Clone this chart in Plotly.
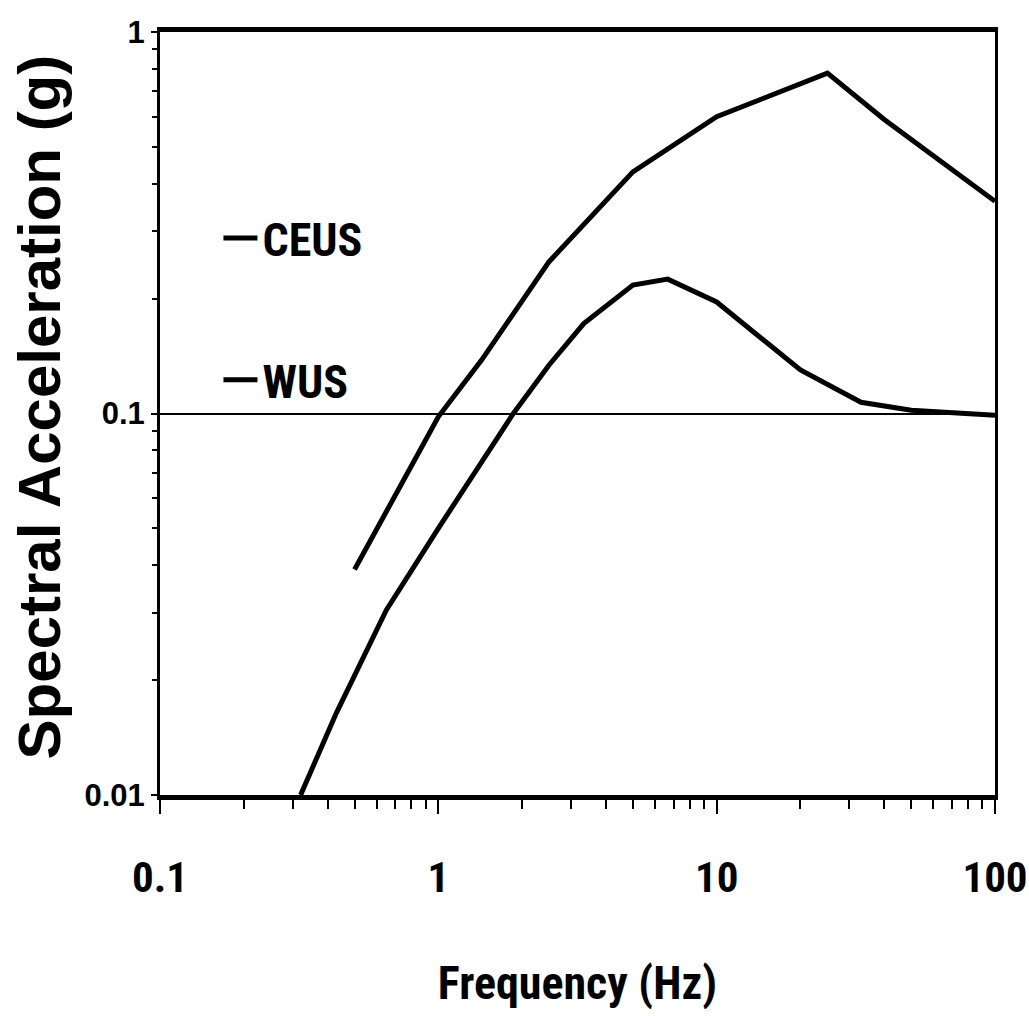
import plotly.graph_objects as go

# Data
ceus_freq = [0.5, 1.0, 1.43, 2.5, 5.0, 10.0, 25.0, 40.0, 100.0]
ceus_sa = [0.039, 0.098, 0.138, 0.25, 0.43, 0.60, 0.78, 0.59, 0.36]

wus_freq = [0.32, 0.43, 0.65, 1.0, 1.86, 2.5, 3.33, 5.0, 6.67, 10.0, 20.0, 33.0, 50.0, 100.0]
wus_sa = [0.010, 0.0164, 0.0305, 0.050, 0.100, 0.134, 0.172, 0.217, 0.225, 0.196, 0.13, 0.107, 0.102, 0.099]

x_tickvals = [0.1, 1, 10, 100]
x_ticktext = ["0.1", "1", "10", "100"]
y_tickvals = [0.01, 0.1, 1]
y_ticktext = ["0.01", "0.1", "1"]
x_minor = [m * d for d in (0.1, 1, 10) for m in range(2, 10)]
y_minor = [m * d for d in (0.01, 0.1) for m in range(2, 10)]

NARROW = "Roboto Condensed, Open Sans Condensed, Arial Narrow, sans-serif"
SANS = "Liberation Sans, Arial, sans-serif"

fig = go.Figure()
fig.add_trace(go.Scatter(x=ceus_freq, y=ceus_sa, mode="lines", name="CEUS",
                         line=dict(color="black", width=5), legend="legend"))
fig.add_trace(go.Scatter(x=wus_freq, y=wus_sa, mode="lines", name="WUS",
                         line=dict(color="black", width=5), legend="legend2"))

legend_common = dict(
    xanchor="left", yanchor="middle",
    bgcolor="rgba(0,0,0,0)", borderwidth=0,
    font=dict(family=NARROW, size=46, color="black", weight="bold"),
    itemwidth=34,
)

fig.update_layout(
    width=1029, height=1016,
    margin=dict(l=160, r=34, t=32, b=221),
    paper_bgcolor="white", plot_bgcolor="white",
    showlegend=True,
    legend=dict(x=0.07, y=0.73, **legend_common),
    legend2=dict(x=0.07, y=0.544, **legend_common),
    xaxis=dict(
        type="log", range=[-1, 2], automargin=False,
        tickmode="array", tickvals=x_tickvals, ticktext=x_ticktext,
        ticks="outside", ticklen=14, tickwidth=1.5, tickcolor="black",
        ticklabelstandoff=26, ticklabeloverflow="allow",
        minor=dict(tickmode="array", tickvals=x_minor, ticks="outside",
                   ticklen=9, tickwidth=1.5, tickcolor="black", showgrid=False),
        showgrid=False, zeroline=False,
        showline=True, linecolor="black", linewidth=5, mirror=True,
        tickfont=dict(family=NARROW, size=43, color="black", weight="bold"),
        title=dict(text="Frequency (Hz)", standoff=68,
                   font=dict(family=NARROW, size=46, color="black", weight="bold")),
    ),
    yaxis=dict(
        type="log", range=[-2, 0], automargin=False,
        tickmode="array", tickvals=y_tickvals, ticktext=y_ticktext,
        ticks="outside", ticklen=6, tickwidth=1.5, tickcolor="black",
        minor=dict(tickmode="array", tickvals=y_minor, ticks="outside",
                   ticklen=5, tickwidth=1.5, tickcolor="black", showgrid=False),
        showgrid=True, gridcolor="black", gridwidth=1.5,
        zeroline=False,
        showline=True, linecolor="black", linewidth=3, mirror=True,
        tickfont=dict(family=SANS, size=31, color="black", weight="bold"),
    ),
    annotations=[dict(
        text="Spectral Acceleration (g)", textangle=-90,
        xref="paper", yref="paper", x=(39 - 160) / 835, y=0.508,
        xanchor="center", yanchor="middle", showarrow=False,
        font=dict(family=SANS, size=60, color="black", weight="bold"),
    )],
)

# remove the default page margin so the figure fills the 1029x1016 window exactly
fig.write_html(
    "out.html",
    config={"displayModeBar": False},
    post_script="document.body.style.margin='0';"
                "document.body.style.overflow='hidden';"
                "document.documentElement.style.overflow='hidden';",
)
